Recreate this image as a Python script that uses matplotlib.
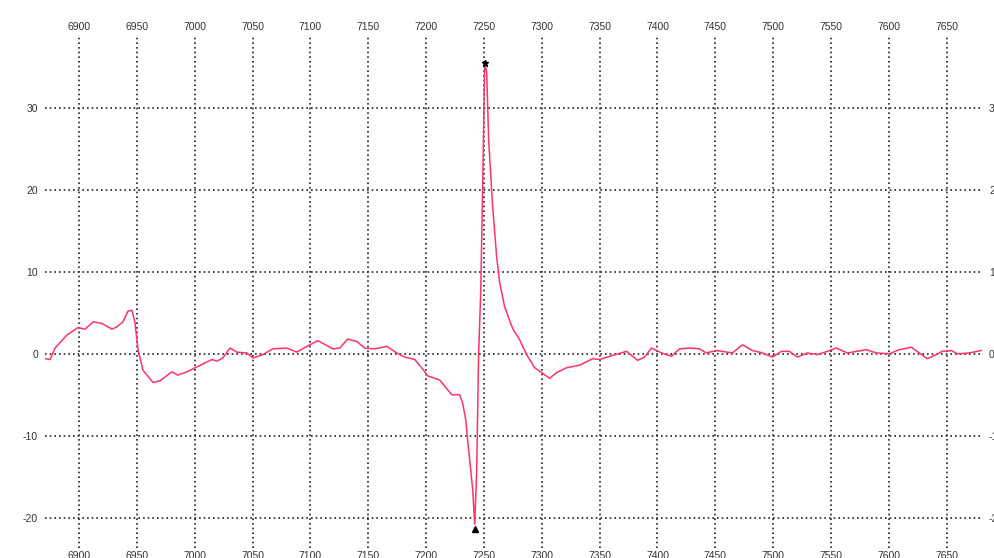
import numpy as np
import matplotlib
matplotlib.use("Agg")
import matplotlib.pyplot as plt

plt.rcParams['font.family'] = ['Liberation Sans', 'DejaVu Sans']
plt.rcParams['axes.unicode_minus'] = False

# signal (x in channel units, y in arbitrary units)
x = [6870.6, 6875.0, 6879.3, 6889.6, 6899.1, 6905.2, 6912.1, 6919.9, 6928.5, 6932.8,
     6938.0, 6942.3, 6945.8, 6948.4, 6951.0, 6955.3, 6963.9, 6970.0, 6980.3, 6985.5,
     6993.3, 7001.9, 7014.9, 7019.2, 7024.4, 7030.4, 7036.4, 7045.1, 7050.3, 7058.9,
     7067.5, 7079.6, 7088.3, 7096.9, 7106.4, 7119.4, 7125.4, 7132.3, 7140.1, 7147.0,
     7155.6, 7166.0, 7174.6, 7181.5, 7190.2, 7196.2, 7201.4, 7211.8, 7222.1, 7229.0,
     7231.6, 7234.2, 7235.9, 7240.3, 7242.0, 7243.7, 7245.4, 7247.2, 7248.9, 7249.8,
     7250.6, 7252.4, 7254.1, 7257.5, 7261.0, 7263.6, 7267.9, 7274.8, 7280.9, 7286.9,
     7293.8, 7299.9, 7306.8, 7312.8, 7321.4, 7332.7, 7343.9, 7349.9, 7361.2, 7373.3,
     7382.8, 7388.8, 7394.8, 7403.5, 7412.1, 7419.0, 7427.7, 7436.3, 7442.3, 7451.0,
     7464.8, 7473.4, 7482.1, 7490.7, 7499.3, 7507.1, 7514.0, 7520.9, 7529.6, 7538.2,
     7546.8, 7554.6, 7564.1, 7580.5, 7589.2, 7600.4, 7609.0, 7619.4, 7626.3, 7633.2,
     7641.0, 7646.2, 7654.0, 7659.1, 7669.5, 7679.8]
y = [-0.6, -0.7, 0.7, 2.3, 3.2, 3.0, 3.9, 3.7, 3.0, 3.3,
     3.9, 5.2, 5.3, 3.8, 0.5, -2.0, -3.5, -3.3, -2.2, -2.6,
     -2.2, -1.6, -0.7, -0.9, -0.5, 0.7, 0.2, 0.1, -0.5, -0.1,
     0.6, 0.7, 0.2, 0.9, 1.6, 0.6, 0.7, 1.8, 1.5, 0.7,
     0.6, 0.9, 0.1, -0.4, -0.7, -1.7, -2.7, -3.2, -5.0, -5.0,
     -6.0, -8.0, -10.5, -16.6, -20.8, -14.5, 0.0, 7.4, 20.4, 28.0,
     35.5, 34.3, 26.0, 18.0, 11.8, 8.7, 5.7, 3.1, 1.7, -0.1,
     -1.7, -2.3, -3.0, -2.3, -1.7, -1.4, -0.6, -0.7, -0.2, 0.3,
     -0.8, -0.4, 0.7, 0.1, -0.3, 0.6, 0.7, 0.6, 0.1, 0.4,
     0.1, 1.1, 0.4, 0.1, -0.4, 0.3, 0.3, -0.4, 0.1, -0.1,
     0.3, 0.7, 0.1, 0.5, 0.1, 0.0, 0.5, 0.8, 0.1, -0.6,
     -0.1, 0.3, 0.4, 0.0, 0.1, 0.4]

xticks = np.arange(6900, 7700, 50)
yticks = [-20, -10, 0, 10, 20, 30]

fig = plt.figure(figsize=(9.95, 5.58), dpi=100)
ax = fig.add_axes([45/995, 10/558, 937/995, 513/558])

ax.plot(x, y, color='#ff3366', lw=1.1, zorder=3)

# peak markers
imin = int(np.argmin(y))
imax = int(np.argmax(y))
ax.plot(x[imin], y[imin], marker='^', ms=4, color='black', zorder=4,
        transform=ax.transData + matplotlib.transforms.ScaledTranslation(0, -5/100, fig.dpi_scale_trans))
ax.plot(x[imax], y[imax], marker='*', ms=5, color='black', zorder=4)

ax.set_xlim(6870.6, 7680.5)
ax.set_ylim(-23.7, 38.9)
ax.set_xticks(xticks)
ax.set_yticks(yticks)

for s in ax.spines.values():
    s.set_visible(False)

ax.tick_params(axis='x', length=0, pad=2, labelsize=7.5, labelcolor='#333333',
               top=True, labeltop=True, bottom=True, labelbottom=True)
ax.tick_params(axis='y', length=0, pad=5, labelsize=7.5, labelcolor='#333333',
               left=True, labelleft=True, right=True, labelright=True)

ax.grid(True, color='#222222', lw=1.2, linestyle=(0, (1, 1.8)))
ax.set_axisbelow(True)

fig.savefig('out.png', dpi=100)
